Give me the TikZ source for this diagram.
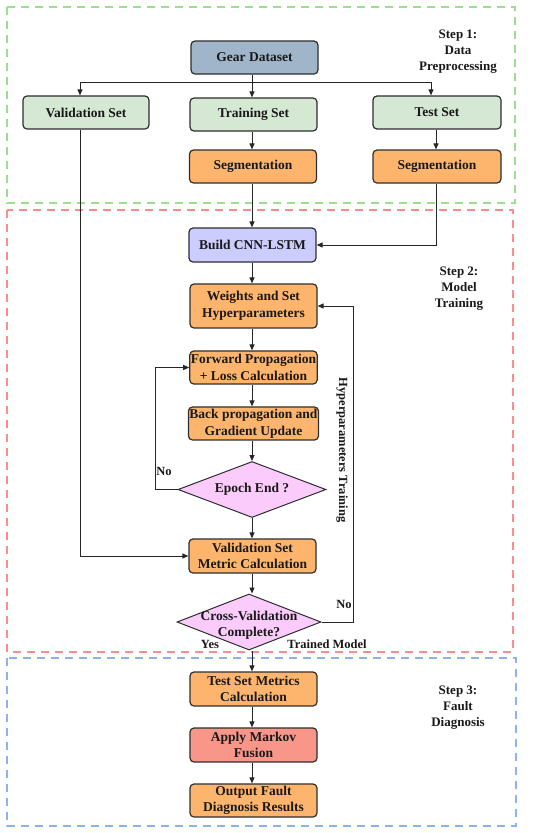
\documentclass[tikz,border=0pt]{standalone}
\usepackage{fontspec}
\setmainfont{Liberation Serif}
\usetikzlibrary{arrows.meta,shapes.geometric}
\definecolor{gearc}{HTML}{A0B5CA}
\definecolor{greenc}{HTML}{D5E8D4}
\definecolor{orangec}{HTML}{FDB56E}
\definecolor{purplec}{HTML}{CCCCFF}
\definecolor{pinkc}{HTML}{FBCBFB}
\definecolor{salmonc}{HTML}{F8968A}
\definecolor{edgec}{HTML}{2E2E2E}
\definecolor{dgreen}{HTML}{9BE08F}
\definecolor{dred}{HTML}{FF8C8C}
\definecolor{dblue}{HTML}{8DB3EC}
\begin{document}
\begin{tikzpicture}[x=1pt,y=-1pt,
  every node/.style={font=\fontsize{13.5}{16.5}\selectfont\bfseries, text=black!90},
  box/.style={draw=edgec, line width=1.2pt, rounded corners=4pt, minimum width=127pt, minimum height=33pt, align=center, inner sep=1pt},
  dec/.style={diamond, draw=edgec, line width=1pt, fill=pinkc, aspect=2.6, inner sep=0pt, align=center},
  arr/.style={draw=black!85, line width=1pt, -{Triangle[length=6pt,width=5pt]}},
  ln/.style={draw=black!85, line width=1pt},
  region/.style={dashed, dash pattern=on 8pt off 6pt, line width=1.1pt},
  lbl/.style={align=center, font=\fontsize{13}{16}\selectfont\bfseries},
  sm/.style={font=\fontsize{12.5}{15}\selectfont\bfseries}
]
\useasboundingbox (0,0) rectangle (550,833);
\fill[white] (0,0) rectangle (550,833);
% regions
\draw[region, draw=dgreen] (7,7) rectangle (515,203);
\draw[region, draw=dred] (7,210) rectangle (513,652);
\draw[region, draw=dblue] (7,658) rectangle (516,826);
% step labels
\node[lbl] (s1) at (458,52) {Step 1:\\Data\\Preprocessing};
\node[lbl] (s2) at (459,289) {Step 2:\\Model\\Training};
\node[lbl] (s3) at (458,708) {Step 3:\\Fault\\Diagnosis};
% nodes
\node[box, fill=gearc] (gear) at (254.5,57.5) {Gear Dataset};
\node[box, fill=greenc, minimum width=126pt] (val) at (86,112.5) {Validation Set};
\node[box, fill=greenc] (train) at (253.5,114.5) {Training Set};
\node[box, fill=greenc, minimum width=128pt] (test) at (437,112.5) {Test Set};
\node[box, fill=orangec] (seg1) at (253,166.5) {Segmentation};
\node[box, fill=orangec, minimum width=128pt] (seg2) at (437,166.5) {Segmentation};
\node[box, fill=purplec, minimum height=34pt] (build) at (252.5,245) {Build CNN-LSTM};
\node[box, fill=orangec, minimum height=44pt] (weights) at (253.5,306) {Weights and Set\\Hyperparameters};
\node[box, fill=orangec] (fwd) at (253.5,367.5) {Forward Propagation\\+ Loss Calculation};
\node[box, fill=orangec] (back) at (253.5,423.5) {Back propagation and\\Gradient Update};
\node[dec, minimum width=148pt, minimum height=56pt] (epoch) at (252,489.5) {};
\node (epocht) at (252,489.5) {Epoch End ?};
\node[box, fill=orangec, minimum height=34pt] (vmet) at (252.5,556) {Validation Set\\Metric Calculation};
\node[dec, minimum width=144pt, minimum height=56pt] (cv) at (249,622) {};
\node[align=center] (cvt) at (249,625) {Cross-Validation\\Complete?};
\node[box, fill=orangec, minimum height=34pt] (tmet) at (253.5,689) {Test Set Metrics\\Calculation};
\node[box, fill=salmonc, minimum height=34pt] (markov) at (253.5,745) {Apply Markov\\Fusion};
\node[box, fill=orangec] (out) at (253.5,800.5) {Output Fault\\Diagnosis Results};
% split
\coordinate (sp) at (252,82);
\coordinate (spl) at (80,82);
\coordinate (spr) at (431,82);
\draw[ln] (gear.south -| sp) -- (sp);
\draw[ln] (spl) -- (spr);
\draw[arr] (spl) -- (spl |- val.north);
\draw[arr] (sp) -- (sp |- train.north);
\draw[arr] (spr) -- (spr |- test.north);
\draw[arr] (train.south -| sp) -- (seg1.north -| sp);
\coordinate (tx) at (436,0);
\draw[arr] (test.south -| tx) -- (seg2.north -| tx);
\draw[arr] (seg1.south -| sp) -- (build.north -| sp);
\draw[arr] (seg2.south -| tx) |- (build.east);
\draw[arr] (build.south -| sp) -- (weights.north -| sp);
\draw[arr] (weights.south -| sp) -- (fwd.north -| sp);
\draw[arr] (fwd.south -| sp) -- (back.north -| sp);
\draw[arr] (back.south -| sp) -- (epoch.north);
\draw[arr] (epoch.south) -- (vmet.north -| epoch.south);
\coordinate (lx) at (155,0);
\draw[arr] (epoch.west) -| (lx |- fwd.west) -- (fwd.west);
\node[sm] (no1) at (164,471) {No};
\draw[arr] (val.south -| spl) |- (vmet.west);
\draw[arr] (vmet.south -| sp) -- (cv.north -| sp);
\coordinate (rx) at (353,0);
\draw[arr] (cv.east) -| (rx |- weights.east) -- (weights.east);
\node[sm] (no2) at (344,604) {No};
\node[sm, rotate=-90] (hyp) at (342,450) {Hyperparameters Training};
\draw[arr] (cv.south -| sp) -- (tmet.north -| sp);
\node[sm] (yes) at (210,644) {Yes};
\node[sm] (tm) at (327,644) {Trained Model};
\draw[arr] (tmet.south -| sp) -- (markov.north -| sp);
\draw[arr] (markov.south -| sp) -- (out.north -| sp);
\end{tikzpicture}
\end{document}
